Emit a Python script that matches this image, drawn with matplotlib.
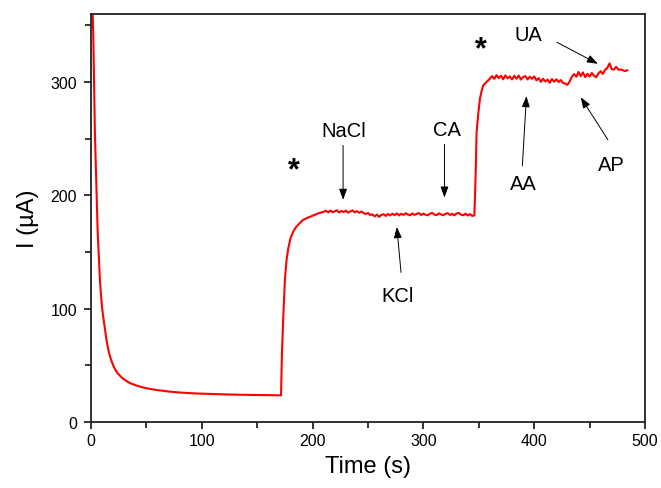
"""Amperometric i-t response with interferent additions."""

import numpy as np
import matplotlib
matplotlib.use("Agg")
import matplotlib.pyplot as plt
from matplotlib.ticker import MultipleLocator

plt.rcParams["font.family"] = ["Liberation Sans", "DejaVu Sans"]

# decay after potential step
t_decay = [0, 0.5, 1, 1.5, 2, 2.5, 3, 3.5, 4, 4.5, 5, 5.5, 6, 7, 8, 9, 10, 11,
           12, 13, 14, 15, 16, 18, 20, 22, 24, 26, 28, 30, 33, 36, 40, 45, 50,
           55, 60, 70, 80, 90, 100, 115, 130, 150, 171.5]
i_decay = [420, 395, 375, 358, 344, 314, 285, 255, 237, 219, 200, 185, 168, 146,
           126, 112, 101, 93, 86, 79, 72, 67, 62, 55, 50, 46, 43, 41, 39, 37.5,
           35.5, 34, 32.5, 31, 29.8, 28.9, 28.1, 26.9, 26.0, 25.4, 25.0, 24.5,
           24.1, 23.8, 23.5]

# first addition (*)
t_rise1 = [172.3, 173.5, 175, 176.5, 178, 180, 182.5, 185, 188, 191, 195, 200, 205]
i_rise1 = [60, 92, 126, 143, 153, 162, 168, 172, 175, 178, 180, 182, 184]

t_plat1 = np.arange(210, 347, 2)
i_plat1 = [185.5, 186.4, 184.9, 186.6, 185.1, 185.9, 186.8, 184.9, 186.2, 185.2,
           186.5, 184.7, 185.8, 186.7, 185.0, 186.1, 184.6, 185.7, 184.4,
           183.5, 184.4, 182.6, 183.1, 181.4, 183.0, 181.0, 182.6, 183.3, 181.8,
           183.5, 182.3,
           183.8, 182.5, 184.1, 182.2, 183.7, 182.7, 184.2, 183.0, 182.4, 184.0,
           182.7, 183.6, 184.3, 182.6, 183.8, 182.8, 182.3, 183.9, 184.4, 182.9,
           182.5, 184.1, 183.1, 182.4, 183.7, 184.2, 182.7, 183.6, 182.3, 184.0,
           184.5, 182.8, 182.4, 183.8, 182.2, 183.4, 181.8, 182.3]

# second addition (*)
t_rise2 = [347.2, 348, 349.5, 351, 352.5, 354, 357]
i_rise2 = [220, 256, 272, 285, 292, 297, 300]

t_plat2 = np.arange(360, 485, 2)
i_plat2 = [303.0, 305.2, 302.8, 306.0, 303.4, 305.6, 302.4, 305.8, 303.1, 304.9,
           302.3, 305.4, 302.9, 305.7, 302.1, 304.3, 305.2, 302.2, 304.6, 302.8,
           304.9,
           301.4, 303.4, 300.1, 302.9, 300.4, 302.1, 299.3, 302.6, 300.2, 302.4,
           299.9, 301.7, 299.1, 298.6, 297.5,
           300.5, 304.6, 307.0, 304.6, 308.8, 305.1, 308.4, 304.3, 307.2, 304.8,
           307.9, 305.5, 304.2, 307.6, 309.5, 307.1, 310.7, 312.5, 316.4, 311.3,
           310.9, 313.4, 310.8, 311.1, 310.4, 309.6, 310.3]

time = np.concatenate([t_decay, t_rise1, t_plat1, t_rise2, t_plat2])
current = np.concatenate([i_decay, i_rise1, i_plat1, i_rise2, i_plat2])

# annotations: label, text position, arrow tail, arrow tip
labels = ["NaCl", "CA", "KCl", "UA", "AA", "AP"]
text_pos = [(228, 257), (321.5, 258.5), (277, 111.5), (395, 342), (390, 210), (469.5, 227)]
arrow_tail = [(227.5, 244), (319, 245), (279.8, 132), (420.5, 335), (389.3, 226), (466.5, 249)]
arrow_tip = [(227.5, 196), (319, 198), (276, 172), (457.5, 316), (393, 287.5), (442, 286.5)]
stars = [(183, 222), (352, 329)]

fig = plt.figure(figsize=(6.61, 4.89), dpi=100)
ax = fig.add_axes([0.1377, 0.135, 0.8381, 0.8344])

ax.plot(time, current, color="#ff0000", linewidth=1.5)

for lab, tp, tail, tip in zip(labels, text_pos, arrow_tail, arrow_tip):
    ax.text(tp[0], tp[1], lab, fontsize=14.5, ha="center", va="center")
    ax.annotate("", xy=tip, xytext=tail,
                arrowprops=dict(arrowstyle="-|>,head_length=0.55,head_width=0.2",
                                color="black", lw=0.7, mutation_scale=12,
                                shrinkA=0, shrinkB=0))

for sx, sy in stars:
    ax.text(sx, sy, "*", fontsize=22, fontweight="bold", ha="center", va="center")

ax.set_xlim(0, 500)
ax.set_ylim(0, 360)
ax.xaxis.set_major_locator(MultipleLocator(100))
ax.xaxis.set_minor_locator(MultipleLocator(50))
ax.yaxis.set_major_locator(MultipleLocator(100))
ax.yaxis.set_minor_locator(MultipleLocator(50))
ax.tick_params(which="both", direction="out", width=1.1, labelsize=11.5,
               top=False, right=False)
ax.tick_params(which="major", length=5)
ax.tick_params(which="minor", length=4)
ax.tick_params(axis="x", pad=3)
ax.tick_params(axis="y", pad=5)
for sp in ax.spines.values():
    sp.set_linewidth(1.3)
    sp.set_color("#222222")

ax.set_xlabel("Time (s)", fontsize=17, labelpad=5)
ax.set_ylabel("I (µA)", fontsize=17, labelpad=8)

fig.savefig("out.png", dpi=100, facecolor="white")
